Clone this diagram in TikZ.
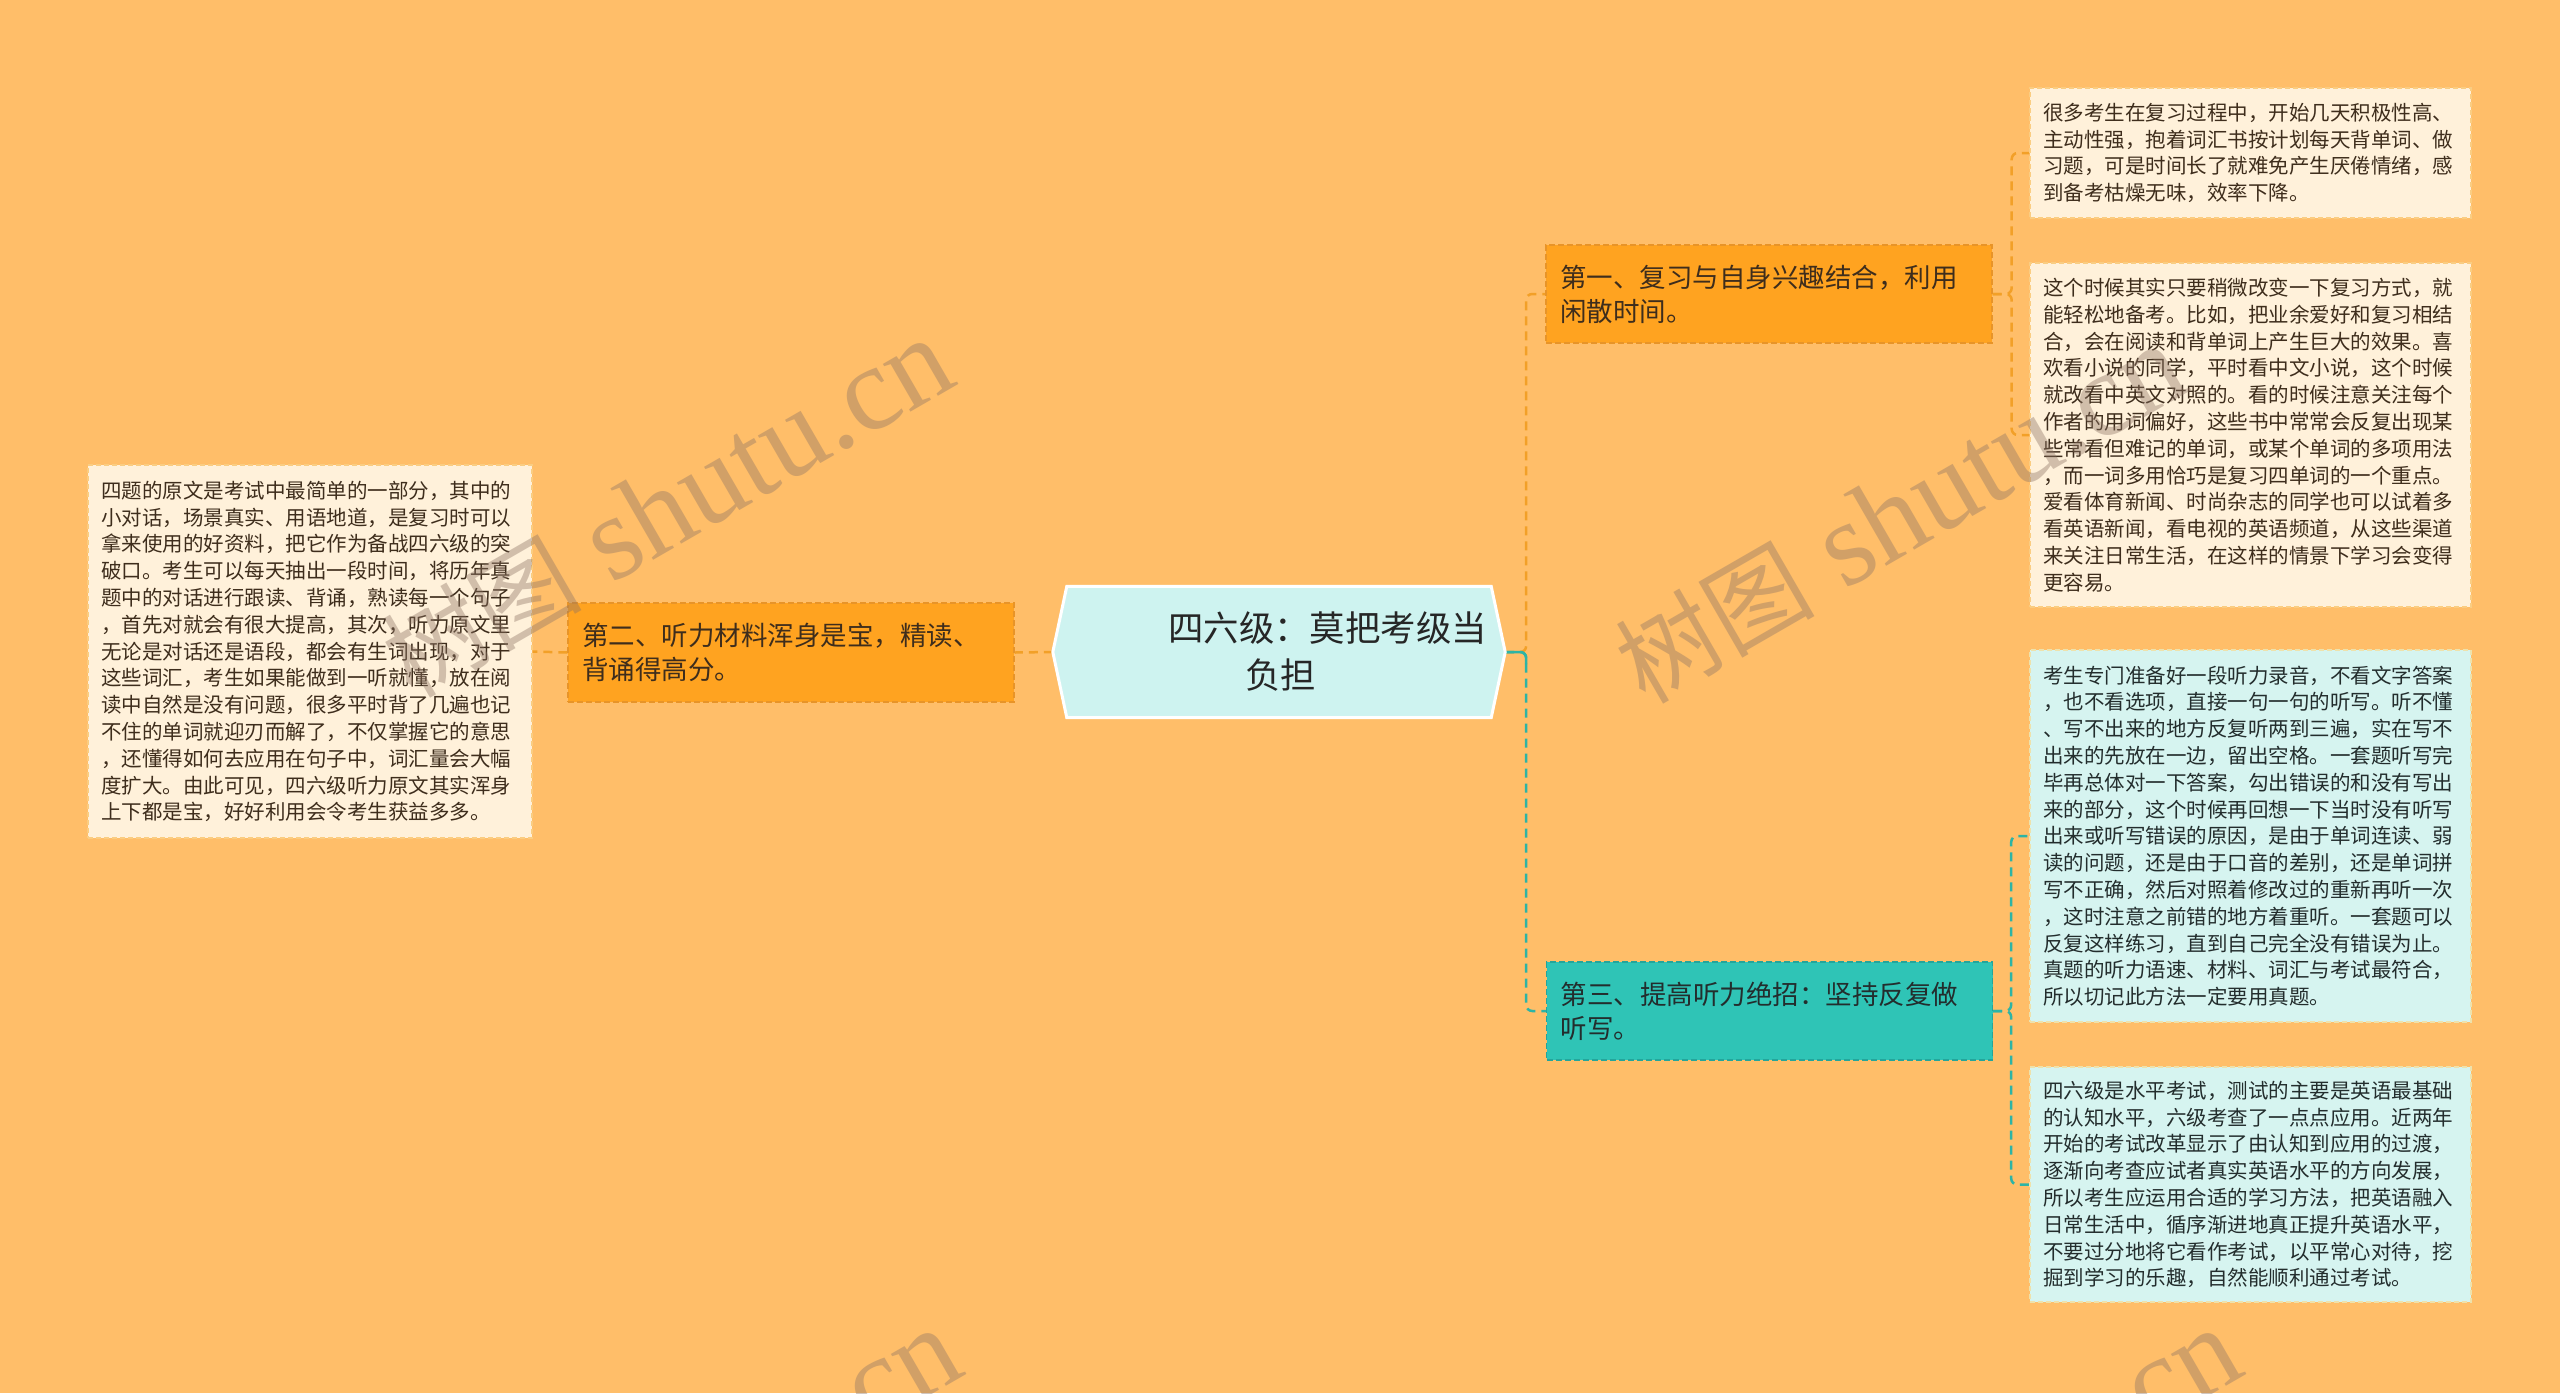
\documentclass[tikz,border=0pt]{standalone}
\usepackage{fontspec}
\setmainfont{Noto Sans CJK SC}
\newfontfamily\wmserif{Liberation Serif}
\newfontfamily\wmcjk{Noto Sans CJK SC}
\usetikzlibrary{calc}
\pgfdeclarelayer{back}
\pgfdeclarelayer{links}
\pgfsetlayers{back,links,main}
\definecolor{bgorange}{RGB}{255,190,105}
\definecolor{orgfill}{RGB}{255,163,32}
\definecolor{orgdraw}{RGB}{232,148,40}
\definecolor{tealfill}{RGB}{47,196,182}
\definecolor{tealdraw}{RGB}{36,165,155}
\definecolor{cfill}{RGB}{206,243,240}
\definecolor{creamfill}{RGB}{255,241,218}
\definecolor{creamdraw}{RGB}{250,205,130}
\definecolor{lcyanfill}{RGB}{214,244,240}
\definecolor{lcyandraw}{RGB}{238,226,172}
\definecolor{lineorg}{RGB}{242,160,40}
\definecolor{lineteal}{RGB}{45,180,165}
\definecolor{txtbrown}{RGB}{62,45,28}
\definecolor{txtdark}{RGB}{35,45,45}
\definecolor{wmcol}{RGB}{140,115,100}
\begin{document}
\begin{tikzpicture}[x=1pt,y=-1pt,
  leafbase/.style={line width=1.4pt, dash pattern=on 5pt off 3pt, inner xsep=13pt, inner ysep=0pt,
    align=left, font=\fontsize{20.5}{26.8}\selectfont},
  leaforg/.style={leafbase, draw=creamdraw, fill=creamfill, text=txtbrown},
  leafteal/.style={leafbase, draw=lcyandraw, fill=lcyanfill, text=txtdark},
  topicbase/.style={line width=1.4pt, dash pattern=on 6pt off 3pt, inner xsep=14pt, inner ysep=0pt,
    align=left, font=\fontsize{26.5}{34}\selectfont, text width=418pt, minimum height=98pt},
  topicorg/.style={topicbase, draw=orgdraw, fill=orgfill, text=txtbrown},
  topicteal/.style={topicbase, draw=tealdraw, fill=tealfill, text=txtdark},
  conorg/.style={draw=lineorg, line width=2.5pt, dash pattern=on 9pt off 6pt, rounded corners=6pt},
  conteal/.style={draw=lineteal, line width=2.5pt, dash pattern=on 9pt off 6pt, rounded corners=6pt},
  conteals/.style={draw=lineteal, line width=2.5pt, rounded corners=6pt},
  wmark/.style={rotate=30, anchor=base west, text=wmcol, text opacity=0.4, inner sep=0pt}
]
\begin{pgfonlayer}{back}
\fill[bgorange] (0,0) rectangle (2560,1393);
\end{pgfonlayer}
\useasboundingbox (0,0) rectangle (2560,1393);

% central topic
\node[minimum width=452pt, minimum height=131pt, inner sep=0pt] (c) at (1279,652) {};
\fill[cfill, draw=white, line width=3pt]
  (c.west) -- ($(c.north west)+(14,0)$) -- ($(c.north east)+(-14,0)$) -- (c.east)
  -- ($(c.south east)+(-14,0)$) -- ($(c.south west)+(14,0)$) -- cycle;
\node[align=left, inner sep=0pt, font=\fontsize{35.4}{47}\selectfont, text=black!85] (ctitle) at (1327.5,651.5)
  {四六级：莫把考级当\\\hspace*{77pt}负担};

% main topics
\node[topicorg, minimum height=99pt] (n2) at (791,652.5) {第二、听力材料浑身是宝，精读、\\背诵得高分。};
\node[topicorg] (n1) at (1769,294) {第一、复习与自身兴趣结合，利用\\闲散时间。};
\node[topicteal] (n3) at (1769.5,1011) {第三、提高听力绝招：坚持反复做\\听写。};

% left leaf
\node[leaforg, text width=418pt, minimum height=373pt] (l1) at (310,651.5) {四题的原文是考试中最简单的一部分，其中的\\
小对话，场景真实、用语地道，是复习时可以\\
拿来使用的好资料，把它作为备战四六级的突\\
破口。考生可以每天抽出一段时间，将历年真\\
题中的对话进行跟读、背诵，熟读每一个句子\\
，首先对就会有很大提高，其次，听力原文里\\
无论是对话还是语段，都会有生词出现，对于\\
这些词汇，考生如果能做到一听就懂，放在阅\\
读中自然是没有问题，很多平时背了几遍也记\\
不住的单词就迎刃而解了，不仅掌握它的意思\\
，还懂得如何去应用在句子中，词汇量会大幅\\
度扩大。由此可见，四六级听力原文其实浑身\\
上下都是宝，好好利用会令考生获益多多。};

% right leaves
\node[leaforg, text width=415pt, minimum height=130pt] (r1) at (2250.5,153) {很多考生在复习过程中，开始几天积极性高、\\
主动性强，抱着词汇书按计划每天背单词、做\\
习题，可是时间长了就难免产生厌倦情绪，感\\
到备考枯燥无味，效率下降。};

\node[leaforg, text width=415pt, minimum height=344pt] (r2) at (2250.5,435) {这个时候其实只要稍微改变一下复习方式，就\\
能轻松地备考。比如，把业余爱好和复习相结\\
合，会在阅读和背单词上产生巨大的效果。喜\\
欢看小说的同学，平时看中文小说，这个时候\\
就改看中英文对照的。看的时候注意关注每个\\
作者的用词偏好，这些书中常常会反复出现某\\
些常看但难记的单词，或某个单词的多项用法\\
，而一词多用恰巧是复习四单词的一个重点。\\
爱看体育新闻、时尚杂志的同学也可以试着多\\
看英语新闻，看电视的英语频道，从这些渠道\\
来关注日常生活，在这样的情景下学习会变得\\
更容易。};

\node[leafteal, text width=415pt, minimum height=372pt] (r3) at (2250.5,836) {考生专门准备好一段听力录音，不看文字答案\\
，也不看选项，直接一句一句的听写。听不懂\\
、写不出来的地方反复听两到三遍，实在写不\\
出来的先放在一边，留出空格。一套题听写完\\
毕再总体对一下答案，勾出错误的和没有写出\\
来的部分，这个时候再回想一下当时没有听写\\
出来或听写错误的原因，是由于单词连读、弱\\
读的问题，还是由于口音的差别，还是单词拼\\
写不正确，然后对照着修改过的重新再听一次\\
，这时注意之前错的地方着重听。一套题可以\\
反复这样练习，直到自己完全没有错误为止。\\
真题的听力语速、材料、词汇与考试最符合，\\
所以切记此方法一定要用真题。};

\node[leafteal, text width=415pt, minimum height=235pt] (r4) at (2250.5,1184.5) {四六级是水平考试，测试的主要是英语最基础\\
的认知水平，六级考查了一点点应用。近两年\\
开始的考试改革显示了由认知到应用的过渡，\\
逐渐向考查应试者真实英语水平的方向发展，\\
所以考生应运用合适的学习方法，把英语融入\\
日常生活中，循序渐进地真正提升英语水平，\\
不要过分地将它看作考试，以平常心对待，挖\\
掘到学习的乐趣，自然能顺利通过考试。};

% connectors
\begin{pgfonlayer}{links}
\draw[conorg] (c.west) -- (n2.east);
\draw[conorg] (n2.west) -- (l1.east);
\draw[conorg] (c.east) -- ++(21,0) |- (n1.west);
\draw[conteal] (c.east) -- ++(21,0) |- (n3.west);
\draw[conteals] (c.east) -- ++(21,0) -- ++(0,12);
\draw[conorg] (n1.east) -- ++(19,0) |- (r1.west);
\draw[conorg] (n1.east) -- ++(19,0) |- (r2.west);
\draw[conteal] (n3.east) -- ++(18,0) |- (r3.west);
\draw[conteal] (n3.east) -- ++(18,0) |- (r4.west);
\end{pgfonlayer}

% watermarks
\node[wmark] (wm1) at (412,700) {{\wmcjk\fontsize{100}{100}\selectfont 树图}{\wmserif\fontsize{120}{120}\selectfont\ shutu.cn}};
\node[wmark] (wm2) at (1645,706) {{\wmcjk\fontsize{100}{100}\selectfont 树图}{\wmserif\fontsize{120}{120}\selectfont\ shutu.cn}};
\node[wmark] (wm3) at (420,1690) {{\wmcjk\fontsize{100}{100}\selectfont 树图}{\wmserif\fontsize{120}{120}\selectfont\ shutu.cn}};
\node[wmark] (wm4) at (1700,1690) {{\wmcjk\fontsize{100}{100}\selectfont 树图}{\wmserif\fontsize{120}{120}\selectfont\ shutu.cn}};
\end{tikzpicture}
\end{document}
